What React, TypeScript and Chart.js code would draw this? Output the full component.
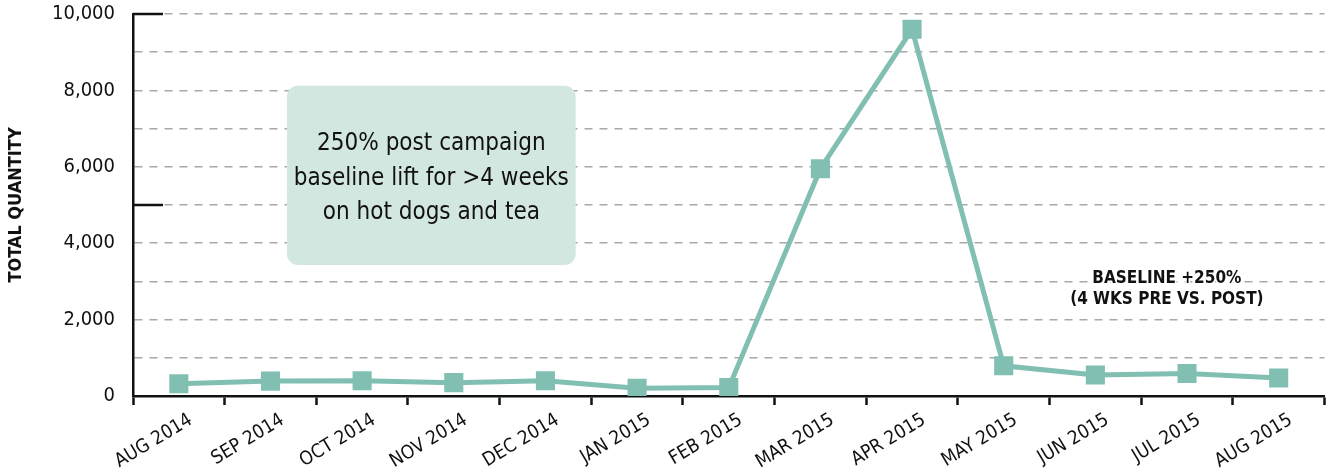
import React, { useEffect, useRef } from 'react';
import { Chart, registerables } from 'chart.js';

Chart.register(...registerables);

const months = [
  'AUG 2014', 'SEP 2014', 'OCT 2014', 'NOV 2014', 'DEC 2014', 'JAN 2015', 'FEB 2015',
  'MAR 2015', 'APR 2015', 'MAY 2015', 'JUN 2015', 'JUL 2015', 'AUG 2015',
];
const totalQuantity = [320, 390, 400, 350, 400, 200, 220, 5950, 9600, 790, 550, 590, 470];
const yMax = 10000;
const yStep = 1000;
const yLabelEvery = 2000;
const majorYTicks = [5000, 10000];
const yTitle = 'TOTAL QUANTITY';
const calloutLines = ['250% post campaign', 'baseline lift for >4 weeks', 'on hot dogs and tea'];
const calloutXRange = [1.18, 4.33];
const calloutYRange = [3430, 8120];
const noteLines = ['BASELINE +250%', '(4 WKS PRE VS. POST)'];
const noteX = 10.78;
const noteY = 2790;

const FONT = '"Liberation Sans Narrow", "DejaVu Sans Condensed", "Roboto", sans-serif';
const TEAL = '#80bfb2';

const overlayPlugin = {
  id: 'overlay',
  beforeDatasetsDraw(chart: any) {
    const { ctx, scales } = chart;
    const x = scales.x;
    const y = scales.y;
    const x0 = x.getPixelForValue(calloutXRange[0]);
    const x1 = x.getPixelForValue(calloutXRange[1]);
    const y0 = y.getPixelForValue(calloutYRange[1]);
    const y1 = y.getPixelForValue(calloutYRange[0]);
    ctx.save();
    ctx.fillStyle = '#d3e7e1';
    ctx.beginPath();
    (ctx as any).roundRect(x0, y0, x1 - x0, y1 - y0, 11);
    ctx.fill();
    ctx.fillStyle = '#111';
    ctx.font = `24px ${FONT}`;
    ctx.textAlign = 'center';
    ctx.textBaseline = 'middle';
    const cx = (x0 + x1) / 2;
    const cy = (y0 + y1) / 2 + 3;
    const lh = 34.5;
    calloutLines.forEach((t, i) => {
      ctx.fillText(t, cx, cy + (i - (calloutLines.length - 1) / 2) * lh);
    });
    ctx.restore();
  },
  afterDraw(chart: any) {
    const { ctx, scales, chartArea } = chart;
    const x = scales.x;
    const y = scales.y;
    ctx.save();
    ctx.strokeStyle = '#111';
    ctx.lineWidth = 2.5;
    majorYTicks.forEach((v) => {
      const py = y.getPixelForValue(v);
      ctx.beginPath();
      ctx.moveTo(chartArea.left, py);
      ctx.lineTo(chartArea.left + 30, py);
      ctx.stroke();
    });
    ctx.font = `bold 17px ${FONT}`;
    ctx.textAlign = 'center';
    ctx.textBaseline = 'middle';
    const nx = x.getPixelForValue(noteX);
    const ny = y.getPixelForValue(noteY);
    const lh = 21;
    noteLines.forEach((t, i) => {
      const py = ny + (i - (noteLines.length - 1) / 2) * lh;
      ctx.strokeStyle = '#fff';
      ctx.lineWidth = 3;
      ctx.strokeText(t, nx, py);
      ctx.fillStyle = '#111';
      ctx.fillText(t, nx, py);
    });
    ctx.restore();
  },
};

export default function App() {
  const ref = useRef<HTMLCanvasElement | null>(null);
  useEffect(() => {
    if (!ref.current) return;
    const chart = new Chart(ref.current, {
      type: 'line',
      data: {
        labels: months,
        datasets: [
          {
            data: totalQuantity,
            borderColor: TEAL,
            backgroundColor: TEAL,
            borderWidth: 5,
            pointStyle: 'rect',
            pointRadius: 13.5,
            pointHoverRadius: 13.5,
            pointBorderWidth: 0,
            pointBackgroundColor: TEAL,
            tension: 0,
          },
        ],
      },
      options: {
        responsive: false,
        animation: false,
        events: [],
        layout: { padding: { top: 14, right: 9, left: 0, bottom: 0 } },
        plugins: { legend: { display: false }, tooltip: { enabled: false } },
        scales: {
          x: {
            offset: true,
            grid: {
              offset: true,
              drawOnChartArea: false,
              drawTicks: true,
              tickLength: 9,
              tickColor: '#111',
              tickWidth: 2.5,
            },
            border: { display: true, color: '#111', width: 2.5 },
            ticks: {
              autoSkip: false,
              minRotation: 31,
              maxRotation: 31,
              padding: 4,
              labelOffset: 12,
              color: '#111',
              font: { family: FONT, size: 19 },
            },
            afterFit: (scale: any) => {
              scale.height = 72;
              scale.paddingLeft = 0;
              scale.paddingRight = 0;
            },
          },
          y: {
            min: 0,
            max: yMax,
            grid: {
              drawTicks: false,
              color: '#a8a8a8',
              lineWidth: 1.5,
            },
            border: { display: true, color: '#111', width: 2.5, dash: [8, 7] },
            ticks: {
              stepSize: yStep,
              padding: 18,
              color: '#111',
              font: { family: FONT, size: 20 },
              callback: (v: any) => (Number(v) % yLabelEvery === 0 ? Number(v).toLocaleString('en-US') : ''),
            },
            title: {
              display: true,
              text: yTitle,
              color: '#111',
              font: { family: FONT, size: 18, weight: 'bold' },
              padding: { top: 6, bottom: 0 },
            },
            afterFit: (scale: any) => {
              scale.width = 133;
              scale.paddingTop = 0;
              scale.paddingBottom = 0;
            },
          },
        },
      },
      plugins: [overlayPlugin],
    });
    return () => chart.destroy();
  }, []);
  return (
    <div style={{ position: 'fixed', left: 0, top: 0, width: 1338, height: 468, background: '#fff' }}>
      <canvas ref={ref} width={1338} height={468} style={{ display: 'block' }} />
    </div>
  );
}
